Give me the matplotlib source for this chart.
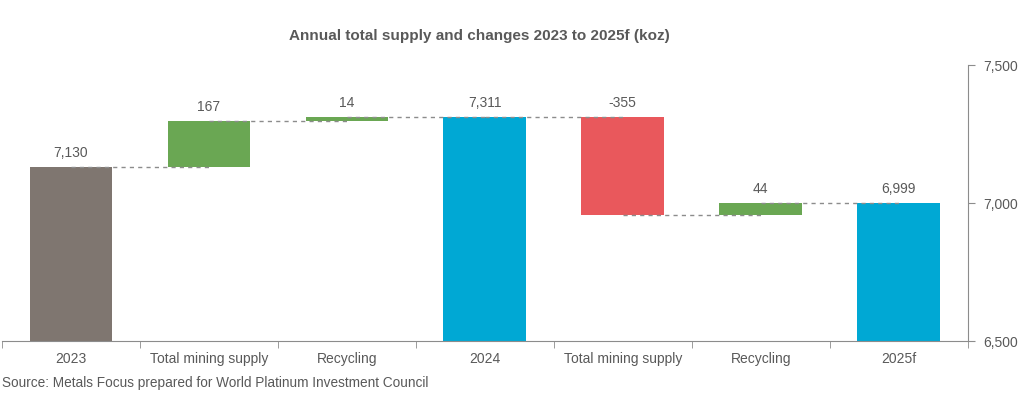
import matplotlib.pyplot as plt
import numpy as np

plt.rcParams['font.family'] = ['Liberation Sans', 'DejaVu Sans']

categories = ["2023", "Total mining supply", "Recycling", "2024",
              "Total mining supply", "Recycling", "2025f"]
changes = [7130, 167, 14, 7311, -355, 44, 6999]
is_total = [True, False, False, True, False, False, True]
labels = ["7,130", "167", "14", "7,311", "-355", "44", "6,999"]

grey = "#7f7670"
green = "#6aa753"
red = "#e9585c"
blue = "#00a8d4"
txt = "#595959"

ymin = 6500

bottoms, heights, colors, ends = [], [], [], []
level = 0
for v, tot in zip(changes, is_total):
    if tot:
        bottoms.append(ymin)
        heights.append(v - ymin)
        level = v
        colors.append(blue)
    else:
        if v >= 0:
            bottoms.append(level)
            heights.append(v)
            colors.append(green)
        else:
            bottoms.append(level + v)
            heights.append(-v)
            colors.append(red)
        level = level + v
    ends.append(level)
colors[0] = grey

fig = plt.figure(figsize=(10.24, 3.99), dpi=100)
ax = fig.add_axes([0.002, 0.145, 0.943, 0.692])

x = np.arange(len(categories))
ax.bar(x, heights, bottom=bottoms, width=0.6, color=colors, zorder=2)

# connectors
for i in range(len(x) - 1):
    ax.plot([x[i], x[i + 1]], [ends[i], ends[i]], ls=(0, (3, 3)),
            color="#8c8c8c", lw=1, zorder=3)

for i in range(len(x)):
    top = bottoms[i] + heights[i]
    ax.annotate(labels[i], (x[i], top), xytext=(0, 5), textcoords="offset points",
                ha="center", va="bottom", fontsize=10, color=txt)

ax.set_xlim(-0.5, len(x) - 0.5)
ax.set_ylim(6500, 7500)
ax.set_xticks(x)
ax.set_xticklabels(categories)
ax.set_xticks(np.arange(len(x) + 1) - 0.5, minor=True)
ax.tick_params(axis="x", which="major", length=0, pad=8, labelsize=10, labelcolor=txt)
ax.tick_params(axis="x", which="minor", length=5, color="#8c8c8c", direction="out")

ax.yaxis.tick_right()
ax.set_yticks([6500, 7000, 7500])
ax.set_yticklabels(["6,500", "7,000", "7,500"])
ax.tick_params(axis="y", length=5, color="#8c8c8c", labelsize=10, labelcolor=txt, pad=6)

for s in ["top", "left"]:
    ax.spines[s].set_visible(False)
ax.spines["bottom"].set_color("#8c8c8c")
ax.spines["right"].set_color("#8c8c8c")

fig.text(0.468, 0.91, "Annual total supply and changes 2023 to 2025f (koz)",
         ha="center", va="center", fontsize=11, fontweight="bold", color=txt)
fig.text(0.002, 0.04, "Source: Metals Focus prepared for World Platinum Investment Council",
         ha="left", va="center", fontsize=9.8, color=txt)

fig.savefig("out.png", dpi=100)
